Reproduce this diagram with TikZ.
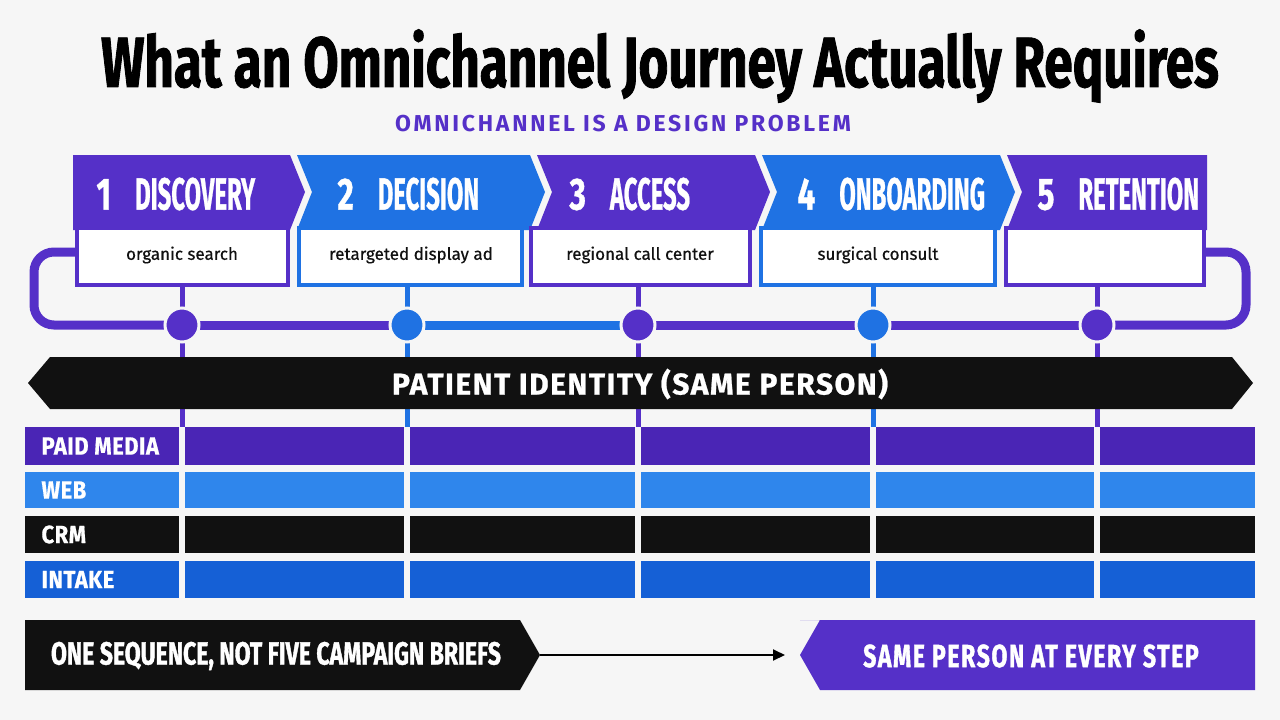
\documentclass[tikz,border=0pt]{standalone}
\usepackage{fontspec}
\usepackage{graphicx}
\setmainfont{Fira Sans}
\newfontfamily\cond[FakeStretch=0.72,FakeBold=1.2]{Fira Sans Bold}
\newfontfamily\condh[FakeBold=1]{Fira Sans Bold}
\newfontfamily\condw[FakeStretch=0.72,FakeBold=1.2,LetterSpace=5]{Fira Sans Bold}
\newfontfamily\condb[FakeStretch=0.88,FakeBold=0.6,LetterSpace=2]{Fira Sans Bold}
\newfontfamily\boldsp[LetterSpace=12]{Fira Sans Bold}
\newfontfamily\boldspx[LetterSpace=5,FakeBold=0.8]{Fira Sans Bold}
\newfontfamily\semi[FakeBold=0.6]{Fira Sans}
\newcommand{\hdtxt}[2]{\scalebox{0.7}[1]{#1}\hspace{24pt}\scalebox{0.53}[1]{#2}}
\usetikzlibrary{arrows.meta}
\definecolor{pur}{HTML}{5530C8}
\definecolor{pur2}{HTML}{4A25B5}
\definecolor{blu}{HTML}{1F72E3}
\definecolor{blu2}{HTML}{2F86EC}
\definecolor{blu3}{HTML}{1560D6}
\definecolor{blk}{HTML}{111111}
\definecolor{bg}{HTML}{F6F6F6}
\begin{document}
\begin{tikzpicture}[x=1pt,y=-1pt,
  hd/.style={font=\condh\fontsize{45}{45}\selectfont, text=white, anchor=west},
  sub/.style={font=\semi\fontsize{17}{17}\selectfont, text=blk},
  rl/.style={font=\condb\fontsize{25}{25}\selectfont, text=white, anchor=west},
  bx/.style={draw=#1, line width=4pt, fill=white},
  ln/.style={line width=9pt, draw=#1},
  stem/.style={line width=5pt, draw=#1},
  dot/.style={circle, fill=#1, minimum size=34pt, inner sep=0pt, draw=bg, line width=3pt}]
\fill[bg] (0,0) rectangle (1280,720);
\useasboundingbox (0,0) rectangle (1280,720);
\node (title) at (660,66) {\cond\fontsize{71}{71}\selectfont What an Omnichannel Journey Actually Requires};
\node[text=pur] (subt) at (623,124) {\boldsp\fontsize{23}{23}\selectfont OMNICHANNEL IS A DESIGN PROBLEM};
% connector lines
\draw[ln=pur, rounded corners=20pt] (80,252) -- (34,252) -- (34,325) -- (182,325);
\draw[ln=pur] (182,325) -- (407,325);
\draw[ln=blu] (407,325) -- (638,325);
\draw[ln=pur] (638,325) -- (873,325);
\draw[ln=pur] (873,325) -- (1097,325);
\draw[ln=pur, rounded corners=20pt] (1195,252) -- (1246,252) -- (1246,325) -- (1097,325);
\foreach \x/\c in {182/pur,407/blu,638/pur,873/blu,1097/pur}{
  \draw[stem=\c] (\x,285) -- (\x,427);}
% banner
\fill[blk] (28,383) -- (50,357) -- (1232,357) -- (1253,383) -- (1232,409) -- (50,409) -- cycle;
\node[text=white] (pid) at (640,384) {\boldspx\fontsize{30}{30}\selectfont PATIENT IDENTITY (SAME PERSON)};
% chevrons
\fill[pur] (73,155) -- (290,155) -- (305,192) -- (290,230) -- (73,230) -- cycle;
\fill[blu] (297,155) -- (530,155) -- (545,192) -- (530,230) -- (297,230) -- (312,192) -- cycle;
\fill[pur] (537,155) -- (755,155) -- (770,192) -- (755,230) -- (537,230) -- (552,192) -- cycle;
\fill[blu] (762,155) -- (1000,155) -- (1015,192) -- (1000,230) -- (762,230) -- (777,192) -- cycle;
\fill[pur] (1007,155) -- (1207,155) -- (1207,230) -- (1007,230) -- (1022,192) -- cycle;
\node[hd] (h1) at (93,194) {\hdtxt{1}{DISCOVERY}};
\node[hd] (h2) at (334,194) {\hdtxt{2}{DECISION}};
\node[hd] (h3) at (566,194) {\hdtxt{3}{ACCESS}};
\node[hd] (h4) at (794,194) {\hdtxt{4}{ONBOARDING}};
\node[hd] (h5) at (1034,194) {\hdtxt{5}{RETENTION}};
\draw[bx=pur] (77,228) rectangle (288,285);
\draw[bx=blu] (299,228) rectangle (522,285);
\draw[bx=pur] (531,228) rectangle (750,285);
\draw[bx=blu] (761,228) rectangle (995,285);
\draw[bx=pur] (1006,228) rectangle (1204,285);
\node[sub] (s1) at (182,255) {organic search};
\node[sub] (s2) at (411,255) {retargeted display ad};
\node[sub] (s3) at (640,255) {regional call center};
\node[sub] (s4) at (878,255) {surgical consult};
\foreach \x/\c in {182/pur,407/blu,638/pur,873/blu,1097/pur}{
  \node[dot=\c] at (\x,325) {};}
% rows
\foreach \ya/\yb/\c/\t in {427/465/pur2/PAID MEDIA,472/508/blu2/WEB,516/553/blk/CRM,561/598/blu3/INTAKE}{
  \fill[\c] (25,\ya) rectangle (179,\yb);
  \fill[\c] (185,\ya) rectangle (404,\yb);
  \fill[\c] (410,\ya) rectangle (635,\yb);
  \fill[\c] (641,\ya) rectangle (870,\yb);
  \fill[\c] (876,\ya) rectangle (1094,\yb);
  \fill[\c] (1100,\ya) rectangle (1255,\yb);
  \node[rl] at (38,{(\ya+\yb)/2}) {\t};}
% bottom
\fill[blk] (25,620) -- (520,620) -- (540,655) -- (520,690) -- (25,690) -- cycle;
\node[text=white] (b1) at (276,656) {\cond\fontsize{32}{32}\selectfont ONE SEQUENCE, NOT FIVE CAMPAIGN BRIEFS};
\fill[pur] (800,620) -- (1255,620) -- (1255,690) -- (820,690) -- (800,655) -- (820,620) -- cycle;
\node[text=white] (b2) at (1031,656) {\condw\fontsize{32}{32}\selectfont SAME PERSON AT EVERY STEP};
\coordinate (a1) at (540,655);
\coordinate (a2) at (785,655);
\draw[line width=2pt, -{Triangle[length=12pt,width=11pt]}] (a1) -- (a2);
\end{tikzpicture}
\end{document}
